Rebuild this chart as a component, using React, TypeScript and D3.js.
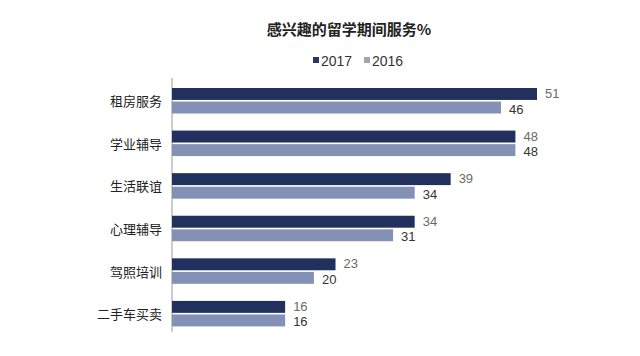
import React from "react";
import * as d3 from "d3";

const categories = ["租房服务", "学业辅导", "生活联谊", "心理辅导", "驾照培训", "二手车买卖"];
const series = ["2017", "2016"];
const values2017 = [51, 48, 39, 34, 23, 16];
const values2016 = [46, 48, 34, 31, 20, 16];
const colors = ["#22305e", "#8391b6"];
const legendColors = ["#2b3560", "#a3a6b0"];
const title = "感兴趣的留学期间服务%";

export default function App() {
  const W = 640, H = 356;
  const font = "'Noto Sans CJK SC', 'Liberation Sans', Arial, sans-serif";
  const numFont = "'Liberation Sans', Arial, sans-serif";
  const x = d3.scaleLinear().domain([0, 51]).range([170, 537]);
  const y = d3.scaleBand<string>().domain(categories).range([79.5, 335]);
  const inner = d3.scaleBand<string>().domain(series).range([8.5, 34]).paddingInner(0.12);
  const data = [values2017, values2016];
  return (
    <div style={{ margin: "-8px" }}>
      <svg width={W} height={H} style={{ display: "block", background: "#fff" }} fontFamily={font}>
        <text x={349} y={35} textAnchor="middle" fontSize={15} fontWeight="bold" fill="#222">{title}</text>
        {series.map((s, i) => {
          const lx = i === 0 ? 313 : 364;
          return (
            <g key={s}>
              <rect x={lx} y={57} width={6} height={6} fill={legendColors[i]} />
              <text x={lx + 8} y={66} fontSize={14} fontFamily={numFont} fill="#333">{s}</text>
            </g>
          );
        })}
        <line x1={172} x2={172} y1={78} y2={332} stroke="#999" strokeWidth={1} />
        {categories.map((c, ci) => (
          <g key={c}>
            <text x={162} y={(y(c) as number) + y.bandwidth() / 2 + 2} textAnchor="end" dominantBaseline="middle" fontSize={13} fill="#222">{c}</text>
            {series.map((s, si) => {
              const by = (y(c) as number) + (inner(s) as number);
              const v = data[si][ci];
              return (
                <g key={s}>
                  <rect x={172} y={by} width={x(v) - 172} height={inner.bandwidth()} fill={colors[si]} />
                  <text x={x(v) + 8} y={by + inner.bandwidth() / 2 + (si === 0 ? 4 : 6)} fontSize={13} fontFamily={numFont} fill={si === 0 ? "#6a6a6a" : "#333"}>{v}</text>
                </g>
              );
            })}
          </g>
        ))}
      </svg>
    </div>
  );
}
